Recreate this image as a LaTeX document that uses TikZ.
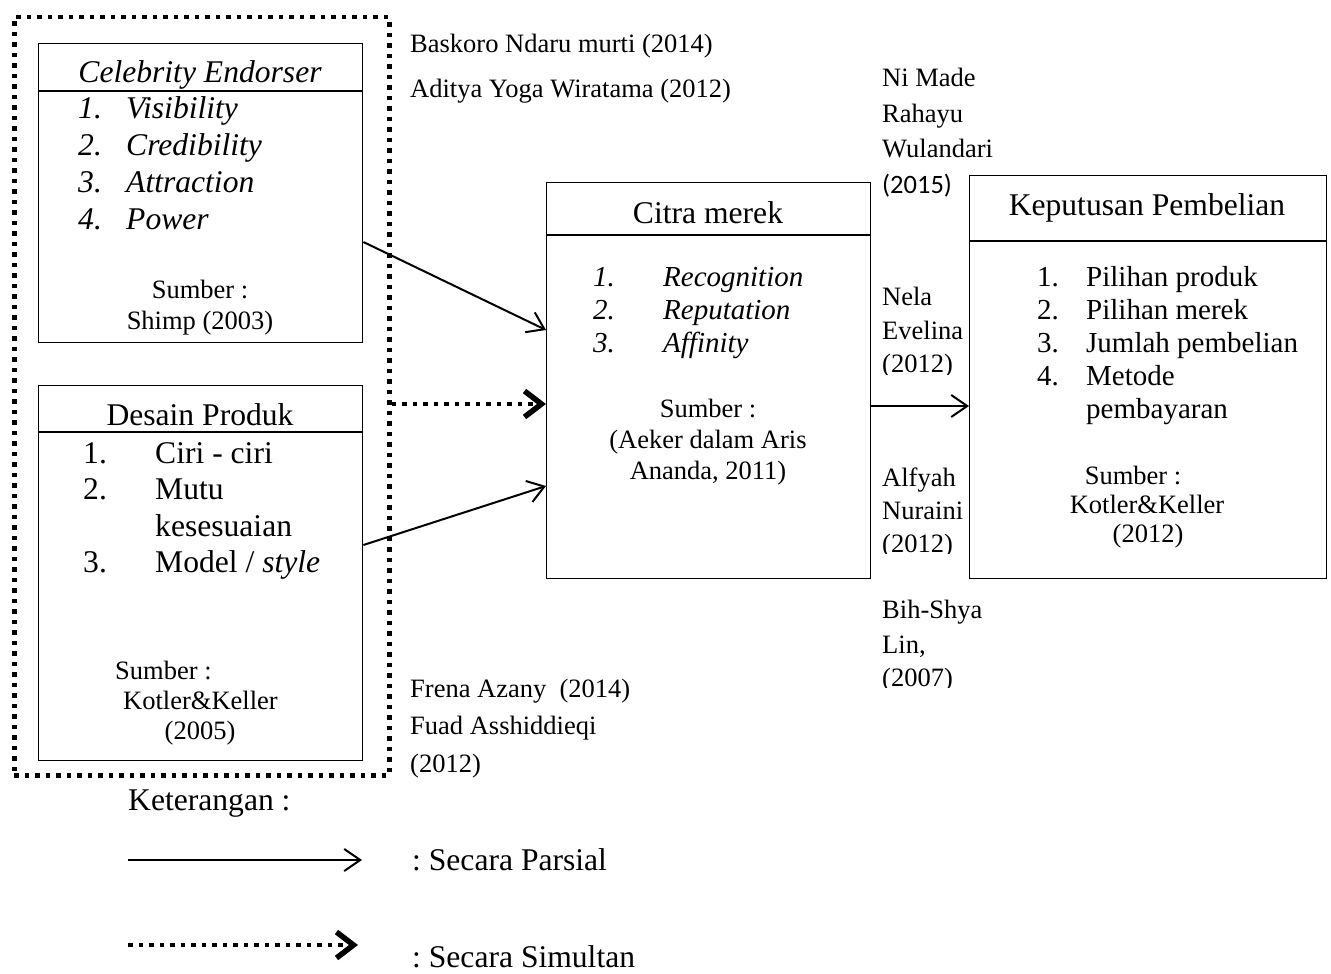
\documentclass[tikz,border=0pt]{standalone}
\usepackage{fontspec}
\setmainfont{Liberation Serif}
\newfontfamily\calib{Carlito}
\usetikzlibrary{arrows.meta,calc}
\frenchspacing
\newcommand\fbig{\fontsize{31.6pt}{37pt}\selectfont}
\newcommand\fmid{\fontsize{29pt}{33pt}\selectfont}
\newcommand\fsml{\fontsize{26.5pt}{31pt}\selectfont}
\begin{document}
\frenchspacing
\begin{tikzpicture}[x=1pt,y=-1pt,
  box/.style={draw,line width=1.4pt,anchor=north west,inner sep=0pt},
  hline/.style={line width=1.4pt},
  tl/.style={inner sep=0pt,anchor=base west},
  tc/.style={inner sep=0pt,anchor=base},
  arr/.style={line width=2pt,-{Straight Barb[length=16pt,width=22pt,line width=2pt]}},
  dots/.style={line width=4.5pt,dash pattern=on 4.5pt off 6pt},
  darr/.style={dots,-{Straight Barb[length=17pt,width=26pt,line width=5.5pt]}}]
\useasboundingbox (0,0) rectangle (1331,974);

% boxes
\node[box,minimum width=324pt,minimum height=299pt] (cel) at (38,43) {};
\node[box,minimum width=324pt,minimum height=375pt] (des) at (38,385) {};
\node[box,minimum width=324pt,minimum height=396pt] (citra) at (546,182) {};
\node[box,minimum width=357pt,minimum height=403pt] (kep) at (969,175) {};
\node[draw,dots,anchor=north west,inner sep=0pt,minimum width=375pt,minimum height=758pt] (grp) at (12,15) {};

\draw[hline] ($(cel.north west)+(0,48)$) -- ($(cel.north east)+(0,48)$);
\draw[hline] ($(des.north west)+(0,47)$) -- ($(des.north east)+(0,47)$);
\draw[hline] ($(citra.north west)+(0,53)$) -- ($(citra.north east)+(0,53)$);
\draw[hline] ($(kep.north west)+(0,66)$) -- ($(kep.north east)+(0,66)$);

% Celebrity Endorser
\node[tc] (celT) at (200,82.5) {\fbig\itshape Celebrity Endorser};
\node[tl] (c1n) at (78,118.5) {\fbig\itshape 1.};
\node[tl] (c1) at (126,118.5) {\fbig\itshape Visibility};
\node[tl] (c2n) at (78,155.5) {\fbig\itshape 2.};
\node[tl] (c2) at (126,155.5) {\fbig\itshape Credibility};
\node[tl] (c3n) at (78,192.5) {\fbig\itshape 3.};
\node[tl] (c3) at (126,192.5) {\fbig\itshape Attraction};
\node[tl] (c4n) at (78,229.5) {\fbig\itshape 4.};
\node[tl] (c4) at (126,229.5) {\fbig\itshape Power};
\node[tc] (cs1) at (200,298) {\fsml Sumber :};
\node[tc] (cs2) at (200,329) {\fsml Shimp (2003)};

% Desain Produk
\node[tc] (desT) at (200,425.5) {\fbig Desain Produk};
\node[tl] (d1n) at (83,463) {\fbig 1.};
\node[tl] (d1) at (155,463) {\fbig Ciri - ciri};
\node[tl] (d2n) at (83,499.5) {\fbig 2.};
\node[tl] (d2) at (155,499.5) {\fbig Mutu};
\node[tl] (d2b) at (155,536) {\fbig kesesuaian};
\node[tl] (d3n) at (83,572.5) {\fbig 3.};
\node[tl] (d3) at (155,572.5) {\fbig Model / \itshape style};
\node[tl] (ds1) at (115,679) {\fsml Sumber :};
\node[tl] (ds2) at (123,709) {\fsml Kotler\&Keller};
\node[tc] (ds3) at (200,739) {\fsml (2005)};

% Citra merek
\node[tc] (citT) at (708,223.5) {\fbig Citra merek};
\node[tl] (m1n) at (593,286.5) {\fmid\itshape 1.};
\node[tl] (m1) at (663,286.5) {\fmid\itshape Recognition};
\node[tl] (m2n) at (593,319.5) {\fmid\itshape 2.};
\node[tl] (m2) at (663,319.5) {\fmid\itshape Reputation};
\node[tl] (m3n) at (593,352.5) {\fmid\itshape 3.};
\node[tl] (m3) at (663,352.5) {\fmid\itshape Affinity};
\node[tc] (ms1) at (708,417) {\fsml Sumber :};
\node[tc] (ms2) at (708,448) {\fsml (Aeker dalam Aris};
\node[tc] (ms3) at (708,479) {\fsml Ananda, 2011)};

% Keputusan Pembelian
\node[tc] (kepT) at (1147,215.5) {\fbig Keputusan Pembelian};
\node[tl] (k1n) at (1037,286.5) {\fmid 1.};
\node[tl] (k1) at (1086,286.5) {\fmid Pilihan produk};
\node[tl] (k2n) at (1037,319.5) {\fmid 2.};
\node[tl] (k2) at (1086,319.5) {\fmid Pilihan merek};
\node[tl] (k3n) at (1037,352.5) {\fmid 3.};
\node[tl] (k3) at (1086,352.5) {\fmid Jumlah pembelian};
\node[tl] (k4n) at (1037,385.5) {\fmid 4.};
\node[tl] (k4) at (1086,385.5) {\fmid Metode};
\node[tl] (k4b) at (1086,418.5) {\fmid pembayaran};
\node[tc] (ks1) at (1133,484) {\fsml Sumber :};
\node[tc] (ks2) at (1147,513) {\fsml Kotler\&Keller};
\node[tc] (ks3) at (1148,542) {\fsml (2012)};

% references
\node[tl] (r1) at (410,53) {\fsml Baskoro Ndaru murti (2014)};
\node[tl] (r2) at (410,98) {\fsml Aditya Yoga Wiratama (2012)};
\node[tl] (r3a) at (882,87) {\fsml Ni Made};
\node[tl] (r3b) at (882,122) {\fsml Rahayu};
\node[tl] (r3c) at (882,157) {\fsml Wulandari};
\node[tl] (r3d) at (882,193.5) {\fsml\calib (2015)};
\begin{scope}
\clip (872,270) rectangle (968,374);
\node[tl] (r4a) at (882,305) {\fsml Nela};
\node[tl] (r4b) at (882,339) {\fsml Evelina};
\node[tl] (r4c) at (882,372) {\fsml (2012)};
\end{scope}
\begin{scope}
\clip (872,450) rectangle (968,553);
\node[tl] (r5a) at (882,486) {\fsml Alfyah};
\node[tl] (r5b) at (882,519) {\fsml Nuraini};
\node[tl] (r5c) at (882,552) {\fsml (2012)};
\end{scope}
\begin{scope}
\clip (872,585) rectangle (1000,687);
\node[tl] (r6a) at (882,618) {\fsml Bih-Shya};
\node[tl] (r6b) at (882,653) {\fsml Lin,};
\node[tl] (r6c) at (882,686) {\fsml (2007)};
\end{scope}
\node[tl] (r7a) at (410,697) {\fsml Frena Azany~ (2014)};
\node[tl] (r7b) at (410,734) {\fsml Fuad Asshiddieqi};
\node[tl] (r7c) at (410,772) {\fsml (2012)};

% connectors
\draw[arr] ($(cel.north east)+(0,199)$) -- ($(citra.north west)+(0,148)$);
\draw[arr] ($(des.north east)+(0,160)$) -- ($(citra.north west)+(0,304)$);
\draw[darr] ($(grp.north east)+(0,389)$) -- ($(citra.north west)+(0,222)$);
\draw[arr] ($(citra.north east)+(0,224)$) -- ($(kep.north west)+(0,231)$);

% legend
\node[tl] (ket) at (128,810) {\fbig Keterangan :};
\coordinate (l1a) at (128,860);
\coordinate (l1b) at (362,860);
\coordinate (l2a) at (128,945);
\coordinate (l2b) at (358,945);
\draw[arr] (l1a) -- (l1b);
\draw[darr] (l2a) -- (l2b);
\node[tl] (lg1) at (412,870) {\fbig : Secara Parsial};
\node[tl] (lg2) at (412,967) {\fbig : Secara Simultan};
\end{tikzpicture}
\end{document}
